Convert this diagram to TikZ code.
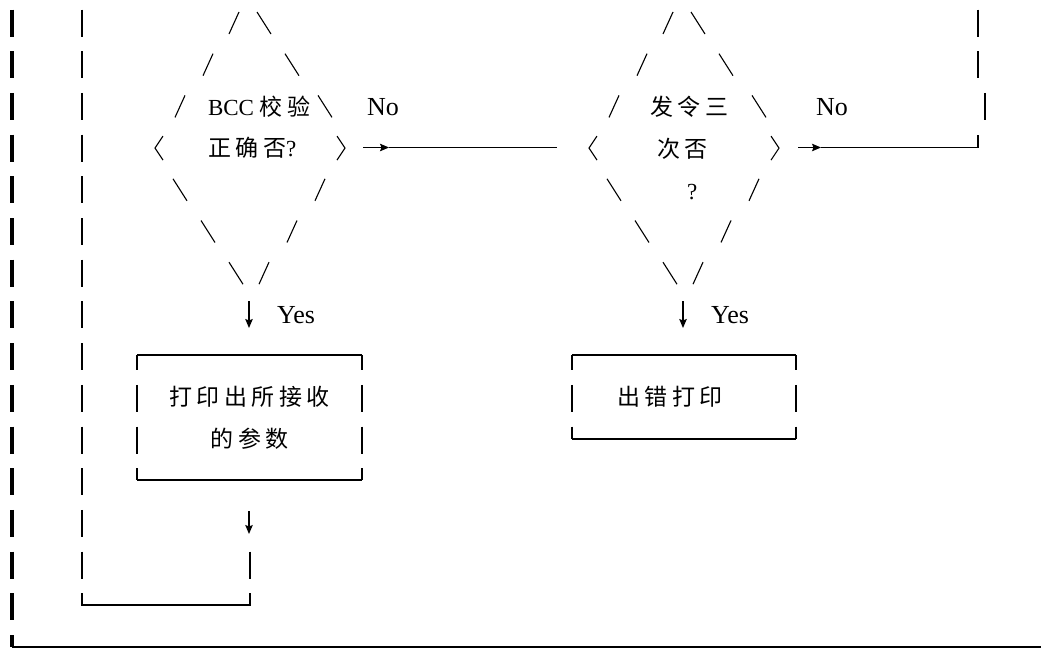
\documentclass[tikz,border=0pt]{standalone}
\usepackage{fontspec}
\setmainfont{Liberation Serif}
\newfontfamily\cjk[LetterSpace=20]{Noto Sans CJK SC}
\usetikzlibrary{positioning,calc,arrows.meta}

\tikzset{
    txt/.style={inner sep=0pt, outer sep=0pt, align=left, font=\fontsize{23}{41.7}\selectfont},
    boxtxt/.style={inner sep=0pt, outer sep=0pt, align=center, font=\cjk\fontsize{23}{41.7}\selectfont},
    tag/.style={inner sep=0pt, font=\fontsize{26}{30}\selectfont},
    edge/.style={line width=1.7pt},
    vbar/.style={line width=1.9pt, dash pattern=on 27pt off 14.7pt},
    heavybar/.style={vbar, line width=4.2pt},
    slash/.style={line width=1.1pt},
    arr/.style={line width=1.2pt, -{Stealth[length=9pt,width=7.5pt,inset=1.5pt]}},
}

\begin{document}
\begin{tikzpicture}[x=1pt, y=-1pt]
    \useasboundingbox (0,0) rectangle (1041,648);

    % Decisions
    \coordinate (d1) at (250, 148.1);
    \coordinate (d2) at (684, 148.1);
    \foreach \dm in {d1, d2} {
        \foreach \row/\dl/\dr in {1/70/75, 2/42/42, 3/16/14} {
            \draw [slash] ($(\dm)+(-\dl-5, -41.7*\row+11)$) -- ++(10, -22);
            \draw [slash] ($(\dm)+(\dr-7, -41.7*\row-11)$) -- ++(14, 22);
        }
        \foreach \row/\dx in {1/70, 2/42, 3/14} {
            \draw [slash] ($(\dm)+(-\dx-7, 41.7*\row-11)$) -- ++(14, 22);
            \draw [slash] ($(\dm)+(\dx-5, 41.7*\row+11)$) -- ++(10, -22);
        }
        \draw [slash] ($(\dm)+(-87, -12)$) -- ++(-8, 12) -- ++(8, 12);
        \draw [slash] ($(\dm)+(87, -12)$) -- ++(8, 12) -- ++(-8, 12);
    }
    \node [txt, anchor=west] (q1) at (208, 127.3) {BCC {\cjk 校验}\\{\cjk 正确否}?};
    \node [txt, anchor=west] (q2) at (650, 148.1) {{\cjk 发令三}\\\hspace*{7pt}{\cjk 次否}\\\hspace*{37pt}?};

    % Process boxes
    \node [boxtxt, minimum width=225, minimum height=125] (p1) at (249.5, 417.5) {打印出所接收\\的参数};
    \node [boxtxt, minimum width=224, minimum height=84] (p2) at (684, 397) {出错打印\hspace*{28pt}};
    \foreach \bx in {p1, p2} {
        \draw [edge] (\bx.north west) -- (\bx.north east);
        \draw [edge] (\bx.south west) -- (\bx.south east);
        \draw [vbar, dash phase=11.9pt] (\bx.north west) -- (\bx.south west);
        \draw [vbar, dash phase=11.9pt] (\bx.north east) -- (\bx.south east);
    }

    % Yes branches
    \coordinate (y1top) at (249, 301);
    \coordinate (y2top) at (683, 301);
    \draw [arr] (y1top) -- ++(0, 27);
    \draw [arr] (y2top) -- ++(0, 27);
    \node [tag, anchor=west] (y1) at (277, 315.5) {Yes};
    \node [tag, anchor=west] (y2) at (711, 315.5) {Yes};

    % No branches
    \node [tag, anchor=west] (n1) at (367, 107) {No};
    \node [tag, anchor=west] (n2) at (816, 107) {No};
    \coordinate (n1a) at (363, 147.5);
    \coordinate (n1b) at (389, 147.5);
    \coordinate (n1c) at (557, 147.5);
    \draw [arr] (n1a) -- (n1b);
    \draw [edge] (n1b) -- (n1c);
    \coordinate (n2a) at (798, 147.5);
    \coordinate (n2b) at (821, 147.5);
    \coordinate (n2c) at (978, 147.5);
    \draw [arr] (n2a) -- (n2b);
    \draw [edge] (n2b) -- (n2c) -- ++(0, -13);
    \draw [vbar] (978, 9.5) -- (978, 78.5);
    \draw [vbar] (985, 92.9) -- (985, 119.9);

    % Return line
    \coordinate (r1) at (249, 511);
    \draw [arr] (r1) -- ++(0, 23);
    \draw [vbar] (250, 551.6) -- (250, 578.6);
    \draw [edge] (250, 593.3) -- (250, 605) -- (82, 605) -- (82, 593.3);
    \draw [vbar] (82, 9.5) -- (82, 578.6);

    % Outer line
    \draw [heavybar] (12, 9.5) -- (12, 647);
    \draw [edge, line width=2.2pt] (12, 647) -- (1041, 647);
\end{tikzpicture}
\end{document}
